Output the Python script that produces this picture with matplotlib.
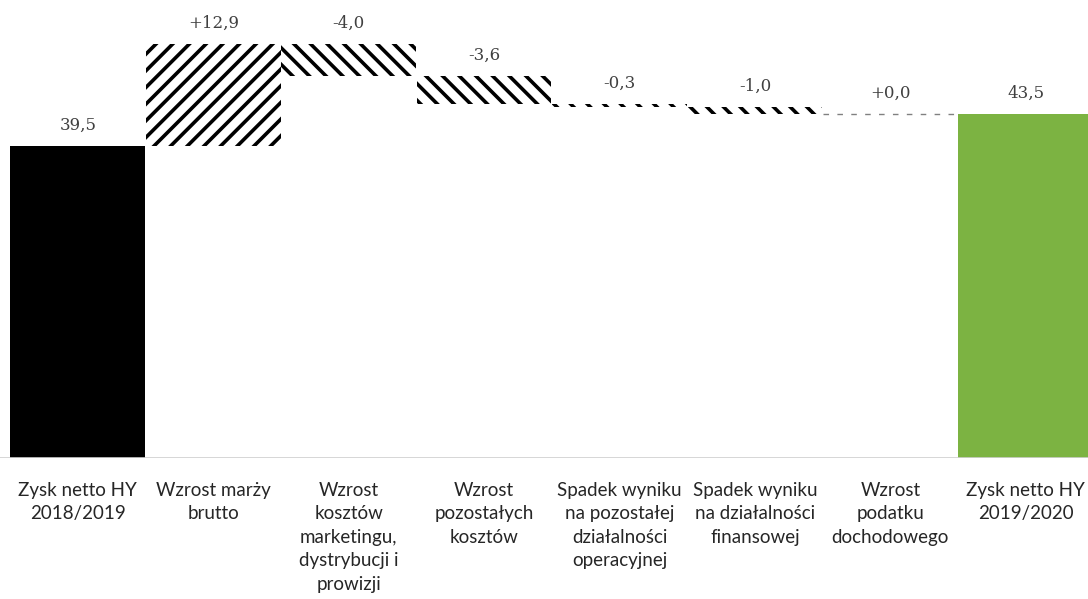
import matplotlib.pyplot as plt
import matplotlib as mpl

# Data
categories = ["Zysk netto HY\n2018/2019", "Wzrost marży\nbrutto",
              "Wzrost\nkosztów\nmarketingu,\ndystrybucji i\nprowizji",
              "Wzrost\npozostałych\nkosztów",
              "Spadek wyniku\nna pozostałej\ndziałalności\noperacyjnej",
              "Spadek wyniku\nna działalności\nfinansowej",
              "Wzrost\npodatku\ndochodowego",
              "Zysk netto HY\n2019/2020"]
changes = [39.5, 12.9, -4.0, -3.6, -0.3, -1.0, 0.0, 43.5]
labels = ["39,5", "+12,9", "-4,0", "-3,6", "-0,3", "-1,0", "+0,0", "43,5"]

mpl.rcParams['hatch.linewidth'] = 2.6
mpl.rcParams['hatch.color'] = 'black'

fig = plt.figure(figsize=(10.88, 5.99), dpi=100)
ax = fig.add_axes([0, 0.2354, 1, 0.7646])

running = 0
pos = list(range(len(changes)))
for i, v in enumerate(changes):
    if i == 0:
        ax.bar(i, v, width=0.995, color='black')
        top = v
        running = v
    elif i == len(changes) - 1:
        ax.bar(i, v, width=0.995, color='#7cb342')
        top = v
    else:
        bottom = running if v >= 0 else running + v
        h = abs(v)
        if h > 0:
            ax.bar(i, h, bottom=bottom, width=0.995, color='white',
                   hatch='//' if v > 0 else '\\\\', linewidth=0)
        else:
            ax.hlines(running, i - 0.5, i + 0.5, colors='#808080',
                      linestyles=(0, (4, 6)), linewidth=1)
        running += v
        top = max(running, running - v)
    ax.text(i, top + 1.55, labels[i], ha='center', va='bottom',
            fontsize=12, family='DejaVu Serif', color='#404040')

ax.set_xlim(-0.575, 7.46)
ax.set_ylim(0, 58)
ax.axhline(0, color='#d0d0d0', linewidth=1.2)
for s in ax.spines.values():
    s.set_visible(False)
ax.set_yticks([])
ax.set_xticks(pos)
ax.set_xticklabels(categories, fontsize=13.5, family='Lato', color='#262626',
                   linespacing=1.47)
ax.tick_params(axis='x', length=0, pad=17)

plt.savefig("out.png", dpi=100)
